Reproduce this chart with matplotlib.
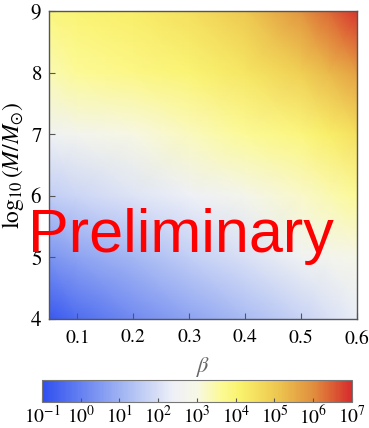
import numpy as np
import matplotlib
matplotlib.use('Agg')
import matplotlib.pyplot as plt
from matplotlib.colors import LinearSegmentedColormap, LogNorm

plt.rcParams['font.family'] = ['STIXGeneral', 'Liberation Serif', 'DejaVu Serif']
plt.rcParams['mathtext.fontset'] = 'stix'

# grid: log10 of the plotted quantity
beta = [0.05, 0.1, 0.2, 0.3, 0.4, 0.5, 0.55, 0.6]
logM = [4, 5, 6, 7, 8, 9]
logval = [
    [-0.8, -0.4, 0.2, 0.7, 1.2, 1.7, 2.0, 2.3],
    [0.4, 0.7, 1.1, 1.6, 2.0, 2.5, 2.7, 2.9],
    [1.6, 1.8, 2.1, 2.4, 2.8, 3.2, 3.4, 3.6],
    [2.5, 2.7, 3.0, 3.3, 3.6, 3.9, 4.2, 4.5],
    [3.4, 3.6, 3.8, 4.0, 4.4, 4.9, 5.3, 5.7],
    [3.9, 4.0, 4.2, 4.5, 5.0, 5.9, 6.4, 6.9],
]
cbar_ticks = [1e-1, 1e0, 1e1, 1e2, 1e3, 1e4, 1e5, 1e6, 1e7]
xticks = [0.1, 0.2, 0.3, 0.4, 0.5, 0.6]
yticks = [4, 5, 6, 7, 8, 9]

# temperature-like map, blue -> white -> yellow -> red
stops = [
    (0.00, (0.18, 0.31, 0.94)),
    (0.25, (0.62, 0.70, 0.95)),
    (0.42, (0.93, 0.94, 0.97)),
    (0.50, (0.97, 0.97, 0.90)),
    (0.58, (0.99, 0.98, 0.58)),
    (0.64, (0.98, 0.95, 0.42)),
    (0.76, (0.93, 0.78, 0.31)),
    (0.88, (0.88, 0.55, 0.24)),
    (1.00, (0.84, 0.17, 0.17)),
]
cmap = LinearSegmentedColormap.from_list('temp', stops)
norm = LogNorm(vmin=1e-1, vmax=1e7)

fig = plt.figure(figsize=(3.69, 4.28), dpi=100)
ax = fig.add_axes([0.1328, 0.2547, 0.8347, 0.7196])

B, L = np.meshgrid(beta, logM)
Z = 10.0 ** np.array(logval)
mesh = ax.pcolormesh(B, L, Z, cmap=cmap, norm=norm, shading='gouraud', rasterized=True)

ax.set_xlim(0.05, 0.6)
ax.set_ylim(4, 9)
ax.set_xticks(xticks)
ax.set_yticks(yticks)
ax.set_xticklabels([r'$%.1f$' % t for t in xticks])
ax.set_yticklabels([r'$%d$' % t for t in yticks])
ax.tick_params(direction='in', length=4, width=0.8, color='#555555',
               labelsize=14, pad=7, top=False, right=False)
ax.tick_params(axis='y', labelsize=15, pad=5)
for s in ax.spines.values():
    s.set_color('#555555')
    s.set_linewidth(1.0)

ax.set_xlabel(r'$\beta$', fontsize=16, color='#666666', labelpad=5)
ax.set_ylabel(r'$\log_{10}(M/M_{\odot})$', fontsize=17, labelpad=3)

cax = fig.add_axes([0.1138, 0.0607, 0.840, 0.0514])
cb = fig.colorbar(mesh, cax=cax, orientation='horizontal', ticks=cbar_ticks)
cb.outline.set_edgecolor('#777777')
cb.ax.minorticks_off()
cb.ax.tick_params(direction='in', length=3, width=0.8, color='#555555',
                  labelsize=14, pad=2)
cb.ax.set_xticklabels([r'$10^{%d}$' % int(np.log10(t)) for t in cbar_ticks])

fig.text(181 / 369, 1 - 252 / 428, 'Preliminary', color='red',
         fontsize=44, family='Liberation Sans', ha='center', va='baseline',
         zorder=10)

fig.savefig('out.png', dpi=100)
